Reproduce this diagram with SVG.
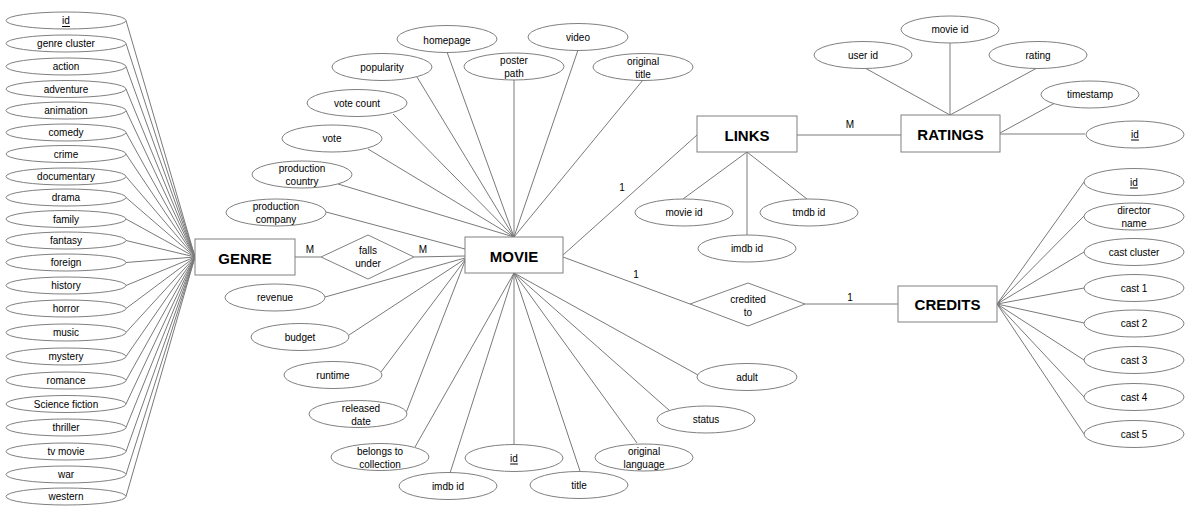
<svg xmlns="http://www.w3.org/2000/svg" width="1193" height="512" viewBox="0 0 1193 512">
<style>
  .bg{fill:#ffffff}
  .att{fill:#ffffff;stroke:#808080;stroke-width:1}
  .ent{fill:#ffffff;stroke:#808080;stroke-width:1}
  .rel{fill:#ffffff;stroke:#808080;stroke-width:1}
  .c line{stroke:#7a7a7a;stroke-width:1}
  text{font-family:"Liberation Sans",Arial,sans-serif;font-size:10px;fill:#000;text-anchor:middle;dominant-baseline:central}
  .et{font-size:15px;font-weight:bold}
  .u{text-decoration:underline}
  .lbl{font-size:10px}
</style>
<rect class="bg" x="0" y="0" width="1193" height="512"/>

<g id="connectors" class="c">
  <!-- genre attributes -->
  <line x1="126" y1="20.5" x2="195" y2="257"/>
  <line x1="126" y1="43.5" x2="195" y2="257"/>
  <line x1="126" y1="66.5" x2="195" y2="257"/>
  <line x1="126" y1="89" x2="195" y2="257"/>
  <line x1="126" y1="110.5" x2="195" y2="257"/>
  <line x1="126" y1="132.5" x2="195" y2="257"/>
  <line x1="126" y1="154" x2="195" y2="257"/>
  <line x1="126" y1="176.5" x2="195" y2="257"/>
  <line x1="126" y1="197.5" x2="195" y2="257"/>
  <line x1="126" y1="219" x2="195" y2="257"/>
  <line x1="126" y1="240.5" x2="195" y2="257"/>
  <line x1="126" y1="262.5" x2="195" y2="257"/>
  <line x1="126" y1="285.5" x2="195" y2="257"/>
  <line x1="126" y1="308.5" x2="195" y2="257"/>
  <line x1="126" y1="332.5" x2="195" y2="257"/>
  <line x1="126" y1="356.5" x2="195" y2="257"/>
  <line x1="126" y1="380.5" x2="195" y2="257"/>
  <line x1="126" y1="404" x2="195" y2="257"/>
  <line x1="126" y1="427.5" x2="195" y2="257"/>
  <line x1="126" y1="451.5" x2="195" y2="257"/>
  <line x1="126" y1="474.5" x2="195" y2="257"/>
  <line x1="126" y1="496.5" x2="195" y2="257"/>
  <!-- genre - falls under - movie -->
  <line x1="295" y1="257" x2="321" y2="257"/>
  <line x1="414" y1="257" x2="465" y2="256"/>
  <!-- movie top attributes -->
  <line x1="447" y1="52" x2="514" y2="237"/>
  <line x1="417" y1="77" x2="514" y2="237"/>
  <line x1="514" y1="80" x2="514" y2="237"/>
  <line x1="578" y1="50" x2="514" y2="237"/>
  <line x1="643" y1="80" x2="514" y2="237"/>
  <line x1="393" y1="114" x2="514" y2="237"/>
  <line x1="368" y1="149" x2="514" y2="237"/>
  <line x1="338" y1="184" x2="514" y2="237"/>
  <line x1="326" y1="212" x2="465" y2="249"/>
  <!-- movie left-bottom attributes -->
  <line x1="325" y1="297" x2="465" y2="258"/>
  <line x1="349" y1="335" x2="465" y2="259"/>
  <line x1="381" y1="372" x2="465" y2="260"/>
  <line x1="406" y1="413" x2="465" y2="261"/>
  <line x1="415" y1="447" x2="514" y2="273"/>
  <line x1="450" y1="473" x2="514" y2="273"/>
  <line x1="514" y1="445" x2="514" y2="273"/>
  <line x1="580" y1="471" x2="514" y2="273"/>
  <line x1="637" y1="443" x2="514" y2="273"/>
  <line x1="670" y1="411" x2="514" y2="273"/>
  <line x1="698" y1="375" x2="514" y2="273"/>
  <!-- relationships -->
  <line x1="563" y1="255" x2="697" y2="135"/>
  <line x1="563" y1="257" x2="690" y2="304"/>
  <line x1="805" y1="304" x2="898" y2="304"/>
  <line x1="797" y1="135" x2="901" y2="135"/>
  <!-- links attributes -->
  <line x1="747" y1="152" x2="683" y2="199"/>
  <line x1="747" y1="152" x2="747" y2="235"/>
  <line x1="747" y1="152" x2="807" y2="199"/>
  <!-- ratings attributes -->
  <line x1="865" y1="68" x2="950" y2="115"/>
  <line x1="950" y1="43" x2="950" y2="115"/>
  <line x1="1037" y1="68" x2="950" y2="115"/>
  <line x1="1055" y1="103" x2="1000" y2="133"/>
  <line x1="1000" y1="134" x2="1085" y2="134"/>
  <!-- credits attributes -->
  <line x1="997" y1="304" x2="1084" y2="182"/>
  <line x1="997" y1="304" x2="1084" y2="216"/>
  <line x1="997" y1="304" x2="1084" y2="252"/>
  <line x1="997" y1="304" x2="1084" y2="288"/>
  <line x1="997" y1="304" x2="1084" y2="323"/>
  <line x1="997" y1="304" x2="1084" y2="360"/>
  <line x1="997" y1="304" x2="1084" y2="397"/>
  <line x1="997" y1="304" x2="1084" y2="434"/>
  <!-- cardinality labels -->
  <text class="lbl" x="310" y="249">M</text>
  <text class="lbl" x="423" y="249">M</text>
  <text class="lbl" x="622" y="187">1</text>
  <text class="lbl" x="850" y="124">M</text>
  <text class="lbl" x="636" y="274">1</text>
  <text class="lbl" x="850" y="297">1</text>
</g>

<!-- GENRE entity and attributes -->
<g id="genre"><rect class="ent" x="195" y="239" width="100" height="36"/><text class="et" x="245" y="258">GENRE</text></g>
<g id="g-id"><ellipse class="att" cx="66" cy="20.5" rx="60" ry="8.5"/><text class="u" x="66" y="20.5">id</text></g>
<g id="g-genre-cluster"><ellipse class="att" cx="66" cy="43.5" rx="60" ry="8.5"/><text x="66" y="43.5">genre cluster</text></g>
<g id="g-action"><ellipse class="att" cx="66" cy="66.5" rx="60" ry="8.5"/><text x="66" y="66.5">action</text></g>
<g id="g-adventure"><ellipse class="att" cx="66" cy="89" rx="60" ry="8.5"/><text x="66" y="89">adventure</text></g>
<g id="g-animation"><ellipse class="att" cx="66" cy="110.5" rx="60" ry="8.5"/><text x="66" y="110.5">animation</text></g>
<g id="g-comedy"><ellipse class="att" cx="66" cy="132.5" rx="60" ry="8.5"/><text x="66" y="132.5">comedy</text></g>
<g id="g-crime"><ellipse class="att" cx="66" cy="154" rx="60" ry="8.5"/><text x="66" y="154">crime</text></g>
<g id="g-documentary"><ellipse class="att" cx="66" cy="176.5" rx="60" ry="8.5"/><text x="66" y="176.5">documentary</text></g>
<g id="g-drama"><ellipse class="att" cx="66" cy="197.5" rx="60" ry="8.5"/><text x="66" y="197.5">drama</text></g>
<g id="g-family"><ellipse class="att" cx="66" cy="219" rx="60" ry="8.5"/><text x="66" y="219">family</text></g>
<g id="g-fantasy"><ellipse class="att" cx="66" cy="240.5" rx="60" ry="8.5"/><text x="66" y="240.5">fantasy</text></g>
<g id="g-foreign"><ellipse class="att" cx="66" cy="262.5" rx="60" ry="8.5"/><text x="66" y="262.5">foreign</text></g>
<g id="g-history"><ellipse class="att" cx="66" cy="285.5" rx="60" ry="8.5"/><text x="66" y="285.5">history</text></g>
<g id="g-horror"><ellipse class="att" cx="66" cy="308.5" rx="60" ry="8.5"/><text x="66" y="308.5">horror</text></g>
<g id="g-music"><ellipse class="att" cx="66" cy="332.5" rx="60" ry="8.5"/><text x="66" y="332.5">music</text></g>
<g id="g-mystery"><ellipse class="att" cx="66" cy="356.5" rx="60" ry="8.5"/><text x="66" y="356.5">mystery</text></g>
<g id="g-romance"><ellipse class="att" cx="66" cy="380.5" rx="60" ry="8.5"/><text x="66" y="380.5">romance</text></g>
<g id="g-science-fiction"><ellipse class="att" cx="66" cy="404" rx="60" ry="8.5"/><text x="66" y="404">Science fiction</text></g>
<g id="g-thriller"><ellipse class="att" cx="66" cy="427.5" rx="60" ry="8.5"/><text x="66" y="427.5">thriller</text></g>
<g id="g-tv-movie"><ellipse class="att" cx="66" cy="451.5" rx="60" ry="8.5"/><text x="66" y="451.5">tv movie</text></g>
<g id="g-war"><ellipse class="att" cx="66" cy="474.5" rx="60" ry="8.5"/><text x="66" y="474.5">war</text></g>
<g id="g-western"><ellipse class="att" cx="66" cy="496.5" rx="60" ry="8.5"/><text x="66" y="496.5">western</text></g>

<!-- falls under relationship -->
<g id="falls-under"><polygon class="rel" points="321,257 368,235 414,257 368,279"/><text x="368" y="250">falls</text><text x="368" y="263">under</text></g>

<!-- MOVIE entity and attributes -->
<g id="movie"><rect class="ent" x="465" y="237" width="98" height="36"/><text class="et" x="514" y="256">MOVIE</text></g>
<g id="m-homepage"><ellipse class="att" cx="447" cy="39" rx="50" ry="13.5"/><text x="447" y="40">homepage</text></g>
<g id="m-popularity"><ellipse class="att" cx="382" cy="67" rx="50" ry="13.5"/><text x="382" y="67">popularity</text></g>
<g id="m-poster-path"><ellipse class="att" cx="514" cy="66.5" rx="50" ry="13.5"/><text x="514" y="60">poster</text><text x="514" y="73">path</text></g>
<g id="m-video"><ellipse class="att" cx="578" cy="37" rx="50" ry="13.5"/><text x="578" y="37">video</text></g>
<g id="m-original-title"><ellipse class="att" cx="643" cy="67" rx="50" ry="13.5"/><text x="643" y="61">original</text><text x="643" y="74">title</text></g>
<g id="m-vote-count"><ellipse class="att" cx="357" cy="103" rx="50" ry="13.5"/><text x="357" y="103">vote count</text></g>
<g id="m-vote"><ellipse class="att" cx="332" cy="138.5" rx="50" ry="13.5"/><text x="332" y="138.5">vote</text></g>
<g id="m-production-country"><ellipse class="att" cx="302" cy="174.5" rx="50" ry="13.5"/><text x="302" y="168">production</text><text x="302" y="181">country</text></g>
<g id="m-production-company"><ellipse class="att" cx="276" cy="212.5" rx="50" ry="13.5"/><text x="276" y="206">production</text><text x="276" y="219">company</text></g>
<g id="m-revenue"><ellipse class="att" cx="275" cy="297.5" rx="50" ry="13.5"/><text x="275" y="297.5">revenue</text></g>
<g id="m-budget"><ellipse class="att" cx="300" cy="337" rx="49" ry="13.5"/><text x="300" y="337">budget</text></g>
<g id="m-runtime"><ellipse class="att" cx="333" cy="375" rx="49" ry="13.5"/><text x="333" y="375">runtime</text></g>
<g id="m-released-date"><ellipse class="att" cx="358" cy="414" rx="49" ry="13.5"/><text x="361" y="408">released</text><text x="361" y="421">date</text></g>
<g id="m-belongs-to-collection"><ellipse class="att" cx="380" cy="457" rx="49" ry="13.5"/><text x="380" y="451">belongs to</text><text x="380" y="464">collection</text></g>
<g id="m-imdb-id"><ellipse class="att" cx="448" cy="486" rx="49" ry="13.5"/><text x="448" y="486">imdb id</text></g>
<g id="m-id"><ellipse class="att" cx="514" cy="458" rx="49" ry="13.5"/><text class="u" x="514" y="458">id</text></g>
<g id="m-title"><ellipse class="att" cx="579" cy="485" rx="49" ry="13.5"/><text x="579" y="485">title</text></g>
<g id="m-original-language"><ellipse class="att" cx="644" cy="457.5" rx="49" ry="13.5"/><text x="644" y="451">original</text><text x="644" y="464">language</text></g>
<g id="m-status"><ellipse class="att" cx="706" cy="419.5" rx="49" ry="13.5"/><text x="706" y="419.5">status</text></g>
<g id="m-adult"><ellipse class="att" cx="747" cy="377" rx="50" ry="13.5"/><text x="747" y="377">adult</text></g>

<!-- LINKS -->
<g id="links"><rect class="ent" x="697" y="116" width="100" height="36"/><text class="et" x="747" y="135">LINKS</text></g>
<g id="l-movie-id"><ellipse class="att" cx="684" cy="212.5" rx="49" ry="13.5"/><text x="684" y="212.5">movie id</text></g>
<g id="l-tmdb-id"><ellipse class="att" cx="809" cy="212.5" rx="49" ry="13.5"/><text x="809" y="212.5">tmdb id</text></g>
<g id="l-imdb-id"><ellipse class="att" cx="747" cy="248.5" rx="49" ry="13.5"/><text x="747" y="248.5">imdb id</text></g>

<!-- RATINGS -->
<g id="ratings"><rect class="ent" x="901" y="115" width="99" height="37"/><text class="et" x="950.5" y="134">RATINGS</text></g>
<g id="r-user-id"><ellipse class="att" cx="863" cy="55" rx="49" ry="13.5"/><text x="863" y="55">user id</text></g>
<g id="r-movie-id"><ellipse class="att" cx="950" cy="29.5" rx="49" ry="13.5"/><text x="950" y="29">movie id</text></g>
<g id="r-rating"><ellipse class="att" cx="1038" cy="55" rx="49" ry="13.5"/><text x="1038" y="55">rating</text></g>
<g id="r-timestamp"><ellipse class="att" cx="1090" cy="94.5" rx="49" ry="13.5"/><text x="1090" y="94">timestamp</text></g>
<g id="r-id"><ellipse class="att" cx="1135" cy="134.5" rx="49" ry="13.5"/><text class="u" x="1135" y="134">id</text></g>

<!-- credited to relationship -->
<g id="credited-to"><polygon class="rel" points="690,304 748,283 805,304 748,326"/><text x="748" y="299">credited</text><text x="748" y="312">to</text></g>

<!-- CREDITS -->
<g id="credits"><rect class="ent" x="898" y="286" width="99" height="36"/><text class="et" x="947.5" y="304">CREDITS</text></g>
<g id="c-id"><ellipse class="att" cx="1134" cy="182" rx="50" ry="13.5"/><text class="u" x="1134" y="182">id</text></g>
<g id="c-director-name"><ellipse class="att" cx="1134" cy="216.5" rx="50" ry="13.5"/><text x="1134" y="210">director</text><text x="1134" y="223">name</text></g>
<g id="c-cast-cluster"><ellipse class="att" cx="1134" cy="252" rx="50" ry="13.5"/><text x="1134" y="252">cast cluster</text></g>
<g id="c-cast-1"><ellipse class="att" cx="1134" cy="288" rx="50" ry="13.5"/><text x="1134" y="288">cast 1</text></g>
<g id="c-cast-2"><ellipse class="att" cx="1134" cy="323.5" rx="50" ry="13.5"/><text x="1134" y="323.5">cast 2</text></g>
<g id="c-cast-3"><ellipse class="att" cx="1134" cy="360" rx="50" ry="13.5"/><text x="1134" y="360">cast 3</text></g>
<g id="c-cast-4"><ellipse class="att" cx="1134" cy="397" rx="50" ry="13.5"/><text x="1134" y="397">cast 4</text></g>
<g id="c-cast-5"><ellipse class="att" cx="1134" cy="434" rx="50" ry="13.5"/><text x="1134" y="434">cast 5</text></g>
</svg>
